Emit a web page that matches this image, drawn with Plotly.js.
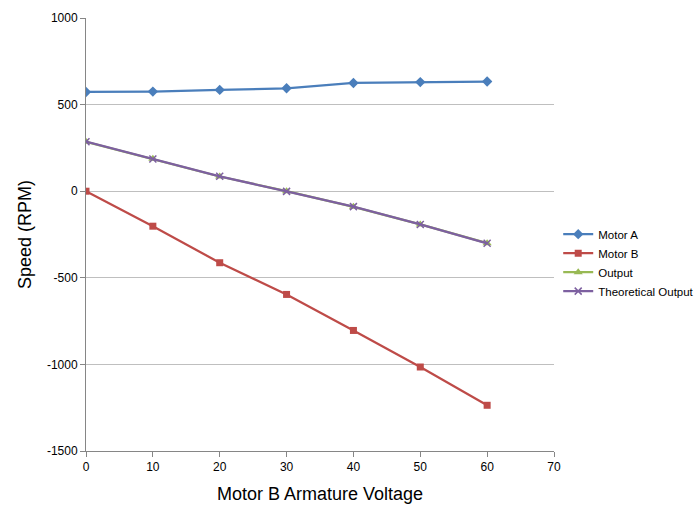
<!DOCTYPE html>
<html>
<head>
<meta charset="utf-8">
<script src="https://cdn.plot.ly/plotly-3.0.1.min.js"></script>
<style>
  html, body { margin: 0; padding: 0; background: #fff; }
  #chart { width: 696px; height: 506px; }
</style>
</head>
<body>
<div id="chart"></div>
<script>
// Motor B armature voltage (x) and measured speeds in RPM
const voltage = [0, 10, 20, 30, 40, 50, 60];
const motorA = [573, 575, 585, 594, 625, 630, 633];
const motorB = [0, -202, -413, -596, -804, -1015, -1236];
const output = [285, 187, 85, 0, -90, -192, -300];
const theoreticalOutput = [286, 186, 86, -1, -89, -192, -301];

// Axis ticks, labelled with a plain hyphen for negatives
const yTickVals = [-1500, -1000, -500, 0, 500, 1000];
const yTickText = ['-1500', '-1000', '-500', '0', '500', '1000'];
const xTickVals = [0, 10, 20, 30, 40, 50, 60, 70];

const font = 'Liberation Sans, Arial, sans-serif';

const traces = [
  {
    name: 'Motor A', x: voltage, y: motorA, mode: 'lines+markers',
    line: { color: '#4A7EBB', width: 2.25 },
    marker: { symbol: 'diamond', size: 8, color: '#4A7EBB' }
  },
  {
    name: 'Motor B', x: voltage, y: motorB, mode: 'lines+markers',
    line: { color: '#BE4B48', width: 2.25 },
    marker: { symbol: 'square', size: 7, color: '#BE4B48' }
  },
  {
    name: 'Output', x: voltage, y: output, mode: 'lines+markers',
    line: { color: '#98B954', width: 2.25 },
    marker: { symbol: 'triangle-up', size: 8, color: '#98B954' }
  },
  {
    name: 'Theoretical Output', x: voltage, y: theoreticalOutput, mode: 'lines+markers',
    line: { color: '#7D60A0', width: 2.25 },
    marker: { symbol: 'x-thin', size: 7, line: { color: '#7D60A0', width: 1.5 } }
  }
];

const layout = {
  width: 696, height: 506,
  margin: { l: 86, r: 142, t: 18, b: 55, autoexpand: false },
  paper_bgcolor: '#fff', plot_bgcolor: '#fff',
  font: { family: font, color: '#000', size: 12 },
  showlegend: true,
  legend: {
    x: 1.009, xanchor: 'left', y: 0.435, yanchor: 'middle',
    font: { family: font, size: 11.5, color: '#000' },
    tracegroupgap: 0, itemwidth: 30
  },
  xaxis: {
    range: [0, 70], tickmode: 'array', tickvals: xTickVals,
    showgrid: false, zeroline: false,
    showline: true, linecolor: '#868686', linewidth: 1,
    ticks: 'outside', ticklen: 5, tickcolor: '#868686',
    tickfont: { family: font, size: 12, color: '#000' },
    title: { text: 'Motor B Armature Voltage', font: { family: font, size: 18, color: '#000' }, standoff: 13 }
  },
  yaxis: {
    range: [-1500, 1000], tickmode: 'array', tickvals: yTickVals, ticktext: yTickText,
    showgrid: true, gridcolor: '#BFBFBF', gridwidth: 1,
    zeroline: false,
    showline: true, linecolor: '#868686', linewidth: 1,
    ticks: 'outside', ticklen: 5, tickcolor: '#868686',
    tickfont: { family: font, size: 12, color: '#000' },
    title: { text: 'Speed (RPM)', font: { family: font, size: 18, color: '#000' }, standoff: 10 }
  }
};

Plotly.newPlot('chart', traces, layout, { displayModeBar: false, staticPlot: true });
</script>
</body>
</html>
